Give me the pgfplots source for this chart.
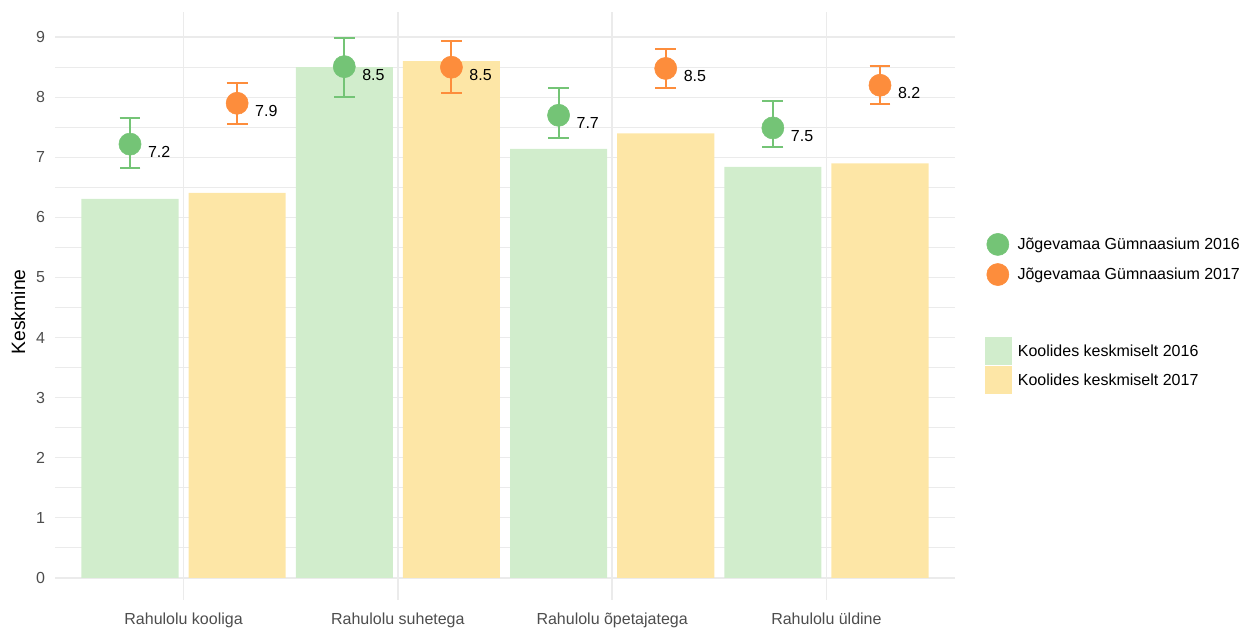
\documentclass[border=0pt]{standalone}
\usepackage{fontspec}
\setmainfont{Liberation Sans}
\usepackage{pgfplots}
\pgfplotsset{compat=1.18}
\usepackage{pgfplotstable}
\definecolor{gpt}{HTML}{74C476}
\definecolor{opt}{HTML}{FD8D3C}
\definecolor{gbarc}{HTML}{D1EDCC}
\definecolor{ybarc}{HTML}{FDE6A6}
\definecolor{gridc}{HTML}{EBEBEB}
\definecolor{tickc}{HTML}{4D4D4D}

\pgfplotstableread{
x y
-0.25 6.31
0.75 8.50
1.75 7.14
2.75 6.84
}\barsA
\pgfplotstableread{
x y
0.25 6.41
1.25 8.60
2.25 7.40
3.25 6.90
}\barsB
\pgfplotstableread{
x y ep em lbl
-0.25 7.22 0.43 0.40 7.2
0.75 8.51 0.47 0.50 8.5
1.75 7.70 0.46 0.37 7.7
2.75 7.49 0.44 0.31 7.5
}\ptsA
\pgfplotstableread{
x y ep em lbl
0.25 7.90 0.34 0.35 7.9
1.25 8.50 0.44 0.43 8.5
2.25 8.48 0.33 0.33 8.5
3.25 8.20 0.32 0.32 8.2
}\ptsB

\begin{document}
\begin{tikzpicture}[x=1pt,y=1pt]
\useasboundingbox (0,0) rectangle (933,471.75);
\begin{axis}[
  at={(41.25pt,21.75pt)}, anchor=south west,
  scale only axis, width=675pt, height=441pt,
  xmin=-0.6, xmax=3.6, ymin=-0.37, ymax=9.42,
  axis line style={draw=none},
  major tick length=0pt, minor tick length=0pt,
  xtick={0,1,2,3},
  xticklabels={Rahulolu kooliga, Rahulolu suhetega, Rahulolu õpetajatega, Rahulolu üldine},
  ytick={0,1,...,9},
  minor ytick={0.5,1.5,...,8.5},
  grid=both,
  major grid style={gridc, line width=1.1pt},
  minor grid style={gridc, line width=0.55pt},
  ticklabel style={tickc, font=\fontsize{12}{14}\selectfont},
  xticklabel style={yshift=-6pt},
  yticklabel style={xshift=-4pt},
  /pgf/number format/assume math mode=true,
  ylabel={Keskmine},
  ylabel style={at={(axis description cs:-0.041,0.49)}, anchor=center, font=\fontsize{14.5}{17}\selectfont},
  clip=false,
  legend style={at={(axis description cs:1.035,0.624)}, anchor=north west, draw=none, fill=none,
    font=\fontsize{12}{14}\selectfont, row sep=6pt, column sep=4.5pt, inner sep=0pt, cells={anchor=west}},
]
\addplot[ybar, bar width=0.453, bar shift=0pt, fill=gbarc, draw=none, forget plot] table[x=x,y=y]{\barsA};
\addplot[ybar, bar width=0.453, bar shift=0pt, fill=ybarc, draw=none, forget plot] table[x=x,y=y]{\barsB};
\addplot[only marks, mark=*, mark size=8.3pt, color=gpt,
  nodes near coords, point meta=explicit symbolic,
  nodes near coords style={anchor=west, xshift=10pt, yshift=-6pt, text=black, font=\fontsize{12}{14}\selectfont},
  error bars/.cd, y dir=both, y explicit,
  error bar style={line width=1.5pt, gpt},
  error mark options={gpt, line width=1.5pt, mark size=7.8pt, rotate=90}]
  table[x=x, y=y, y error plus=ep, y error minus=em, meta=lbl]{\ptsA};
\addlegendentry{Jõgevamaa Gümnaasium 2016}
\addplot[only marks, mark=*, mark size=8.3pt, color=opt,
  nodes near coords, point meta=explicit symbolic,
  nodes near coords style={anchor=west, xshift=10pt, yshift=-6pt, text=black, font=\fontsize{12}{14}\selectfont},
  error bars/.cd, y dir=both, y explicit,
  error bar style={line width=1.5pt, opt},
  error mark options={opt, line width=1.5pt, mark size=7.8pt, rotate=90}]
  table[x=x, y=y, y error plus=ep, y error minus=em, meta=lbl]{\ptsB};
\addlegendentry{Jõgevamaa Gümnaasium 2017}
\end{axis}
\begin{axis}[
  at={(41.25pt,21.75pt)}, anchor=south west,
  scale only axis, width=675pt, height=441pt,
  xmin=-0.6, xmax=3.6, ymin=-0.37, ymax=9.42,
  hide axis,
  legend style={at={(axis description cs:1.0333,0.447)}, anchor=north west, draw=none, fill=none,
    font=\fontsize{12}{14}\selectfont, row sep=0.75pt, column sep=2.25pt, inner sep=0pt, cells={anchor=west}},
  legend image code/.code={\fill[#1] (0pt,-10.5pt) rectangle (20.25pt,10.5pt);},
]
\addlegendimage{fill=gbarc, draw=none}
\addlegendentry{Koolides keskmiselt 2016}
\addlegendimage{fill=ybarc, draw=none}
\addlegendentry{Koolides keskmiselt 2017}
\end{axis}
\end{tikzpicture}
\end{document}
